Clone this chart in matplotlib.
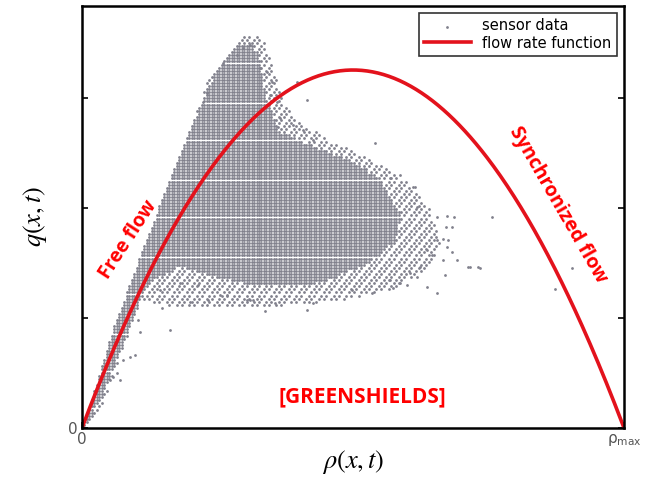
import numpy as np
import matplotlib.pyplot as plt
from matplotlib.path import Path

plt.rcParams['mathtext.fontset'] = 'stix'

# flow rate function (Greenshields): q = 4*q_max*rho*(1-rho/rho_max)
rho_max = 1.0
q_max = 1627.0

# outline of the dense part of the sensor cloud (rho/rho_max, q)
dense_rho = [0.002, 0.033, 0.079, 0.107, 0.125, 0.181, 0.255, 0.328, 0.439, 0.531,
             0.578, 0.587, 0.550, 0.494, 0.421, 0.365, 0.339, 0.328, 0.310, 0.288,
             0.264, 0.242, 0.199, 0.125, 0.057]
dense_q = [0, 127, 400, 582, 664, 741, 682, 645, 659, 755,
           855, 968, 1127, 1218, 1286, 1345, 1491, 1664, 1755, 1736,
           1673, 1595, 1355, 900, 445]

# looser fringe around it
fringe_rho = [0.002, 0.040, 0.107, 0.162, 0.255, 0.365, 0.476, 0.568, 0.633, 0.661,
              0.642, 0.596, 0.531, 0.458, 0.393, 0.365, 0.351, 0.332, 0.301, 0.264,
              0.236, 0.199, 0.125, 0.057]
fringe_q = [0, 120, 582, 559, 559, 559, 582, 627, 718, 832,
            991, 1127, 1227, 1309, 1400, 1514, 1673, 1773, 1786, 1709,
            1618, 1355, 900, 445]

# single scattered readings
out_rho = [0.655, 0.673, 0.686, 0.756, 0.672, 0.683, 0.655, 0.666, 0.675, 0.673,
           0.683, 0.692, 0.716, 0.731, 0.666, 0.637, 0.646, 0.624, 0.605, 0.618,
           0.637, 0.587, 0.568, 0.614, 0.587, 0.568, 0.541, 0.904, 0.873, 0.734,
           0.712, 0.670, 0.655, 0.600, 0.574, 0.535, 0.498, 0.618, 0.611,
           0.098, 0.070, 0.052, 0.162, 0.148, 0.107, 0.103, 0.089, 0.076, 0.065,
           0.057, 0.199, 0.232, 0.255, 0.268, 0.304, 0.315, 0.338, 0.144, 0.181,
           0.214, 0.415, 0.426, 0.356, 0.310,
           0.323, 0.310, 0.297, 0.286, 0.260, 0.328, 0.341, 0.351, 0.360, 0.347,
           0.397, 0.415, 0.389, 0.408, 0.426, 0.365, 0.362, 0.231, 0.223]
out_q = [959, 964, 959, 959, 914, 914, 855, 859, 855, 823,
         800, 764, 732, 732, 764, 809, 786, 732, 705, 686,
         641, 659, 673, 1095, 1150, 1136, 1295, 727, 632, 727,
         732, 695, 614, 650, 636, 614, 627, 1005, 1095,
         332, 218, 218, 445, 545, 436, 491, 323, 309, 250,
         232, 573, 582, 605, 605, 582, 582, 532, 627, 659,
         650, 536, 568, 568, 582,
         1777, 1741, 1727, 1695, 1659, 1636, 1618, 1573, 1482, 1514,
         1573, 1491, 1377, 1354, 1309, 1409, 1368, 1523, 1482]

# measurements are quantised: density steps and flow steps
d_rho = 0.0046
d_q = 14.0

gx, gy = np.meshgrid(np.arange(0, 1, d_rho), np.arange(0, 1900, d_q))
pts = np.column_stack([gx.ravel(), gy.ravel()])
in_dense = Path(np.column_stack([dense_rho, dense_q])).contains_points(pts)
in_fringe = Path(np.column_stack([fringe_rho, fringe_q])).contains_points(pts)
ii, jj = np.meshgrid(np.arange(gx.shape[1]), np.arange(gx.shape[0]))
sparse = (((ii * 7 + jj * 3) % 5) < 2).ravel()
keep = in_dense | (in_fringe & sparse)
sx = np.concatenate([pts[keep, 0], out_rho])
sy = np.concatenate([pts[keep, 1], out_q])

rho = np.linspace(0, rho_max, 400)
q = 4 * q_max * rho * (1 - rho / rho_max)

fig = plt.figure(figsize=(6.48, 4.79), dpi=100)
ax = fig.add_axes([0.1265, 0.1065, 0.8365, 0.881])

ax.scatter(sx, sy, s=4, color='#80808c', linewidths=0, label='sensor data')
ax.plot(rho, q, color='#e3121c', lw=2.6, label='flow rate function')

ax.set_xlim(0, rho_max)
ax.set_ylim(0, 1918)
ax.set_xticks([0, rho_max])
ax.set_xticklabels(['0', r'$\mathregular{\rho_{max}}$'], color='#555555', fontsize=11)
ax.set_yticks([0, 500, 1000, 1500])
ax.set_yticklabels(['0', '', '', ''], color='#555555', fontsize=11)
ax.tick_params(direction='in', length=4, width=1.2, right=True, pad=3)
for s in ax.spines.values():
    s.set_linewidth(1.8)

ax.set_xlabel(r'$\rho(x,t)$', fontsize=19, labelpad=0)
ax.set_ylabel(r'$q(x,t)$', fontsize=19, labelpad=14)

ax.text(0.085, 855, 'Free flow', color='#ff0000', fontsize=14, fontweight='bold',
        family='Open Sans', rotation=57, ha='center', va='center')
ax.text(0.878, 1013, 'Synchronized flow', color='#ff0000', fontsize=14, fontweight='bold',
        family='Open Sans', rotation=-60, ha='center', va='center')
ax.text(0.517, 140, '[GREENSHIELDS]', color='#ff0000', fontsize=15, fontweight='bold',
        family='Open Sans', ha='center', va='center')

leg = ax.legend(loc='upper right', fontsize=10.5, frameon=True, fancybox=False,
                edgecolor='black', markerscale=1.0, borderaxespad=0.5,
                handlelength=3.2, borderpad=0.35, labelspacing=0.15)
leg.get_frame().set_linewidth(1.2)

fig.savefig('out.png', dpi=100)
